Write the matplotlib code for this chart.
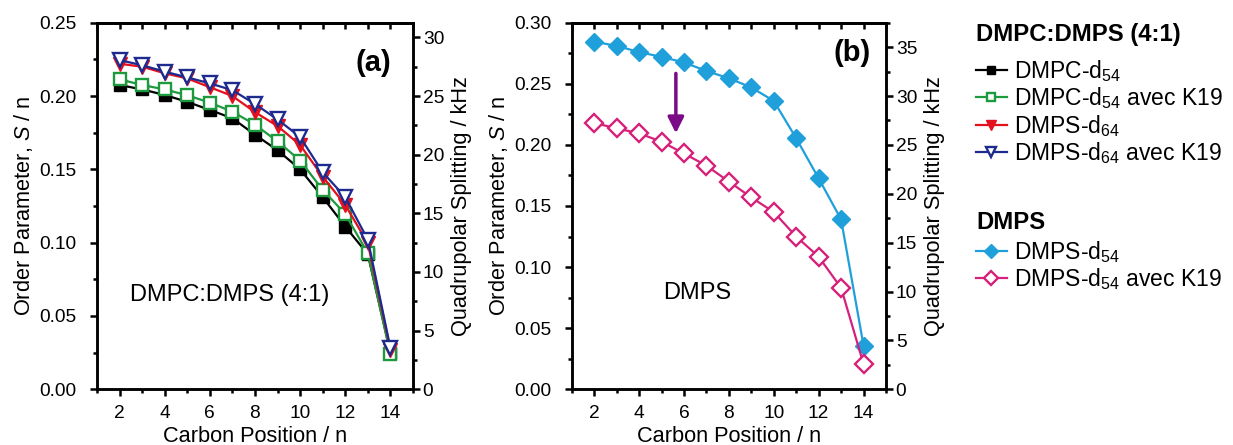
import matplotlib
matplotlib.use("Agg")
import matplotlib.pyplot as plt
from matplotlib.ticker import MultipleLocator

plt.rcParams['font.family'] = ['Liberation Sans', 'DejaVu Sans']
plt.rcParams['mathtext.fontset'] = 'custom'
plt.rcParams['mathtext.rm'] = 'Liberation Sans'
plt.rcParams['mathtext.it'] = 'Liberation Sans:italic'
plt.rcParams['mathtext.bf'] = 'Liberation Sans:bold'

# ---------------- data ----------------
carbon = [2, 3, 4, 5, 6, 7, 8, 9, 10, 11, 12, 13, 14]

# panel (a) DMPC:DMPS (4:1)
dmpc_d54 = [0.2075, 0.2045, 0.2007, 0.196, 0.1905, 0.1848, 0.1736, 0.163, 0.150, 0.131, 0.111, 0.092, 0.025]
dmpc_d54_k19 = [0.2114, 0.2075, 0.2045, 0.2005, 0.1955, 0.1893, 0.1805, 0.169, 0.156, 0.136, 0.1195, 0.0927, 0.024]
dmps_d64 = [0.222, 0.220, 0.2155, 0.212, 0.206, 0.200, 0.189, 0.1795, 0.1666, 0.145, 0.1257, 0.0995, 0.027]
dmps_d64_k19 = [0.2245, 0.221, 0.2166, 0.2127, 0.2086, 0.204, 0.1945, 0.184, 0.172, 0.148, 0.131, 0.102, 0.028]

# panel (b) DMPS
dmps_d54 = [0.2845, 0.281, 0.276, 0.272, 0.2675, 0.2605, 0.2545, 0.247, 0.236, 0.2054, 0.1726, 0.139, 0.0357]
dmps_d54_k19 = [0.218, 0.2135, 0.2095, 0.2026, 0.193, 0.183, 0.170, 0.157, 0.145, 0.125, 0.1085, 0.083, 0.0207]

labels_a = ['DMPC-d$_{\\mathregular{54}}$', 'DMPC-d$_{\\mathregular{54}}$ avec K19',
            'DMPS-d$_{\\mathregular{64}}$', 'DMPS-d$_{\\mathregular{64}}$ avec K19']
labels_b = ['DMPS-d$_{\\mathregular{54}}$', 'DMPS-d$_{\\mathregular{54}}$ avec K19']
title_a = 'DMPC:DMPS (4:1)'
title_b = 'DMPS'

# arrow in panel (b): x, y start, y end
arrow_x = 5.64
arrow_y0 = 0.2585
arrow_y1 = 0.2095

KHZ_PER_S = 125.0

# ---------------- figure ----------------
W, H = 1233, 445
fig = plt.figure(figsize=(W / 100, H / 100), dpi=100)

def px_axes(l, t, r, b):
    return fig.add_axes([l / W, 1 - b / H, (r - l) / W, (b - t) / H])

axa = px_axes(97, 22.7, 413, 389.3)
axb = px_axes(571.7, 22.7, 886, 389.3)

TICK_FS = 13.8
LABEL_FS = 15.7
SW = 1.8

def style(ax, ymax, ymaj, ymin_minor):
    ax.set_xlim(1, 15)
    ax.set_ylim(0, ymax)
    ax.xaxis.set_major_locator(MultipleLocator(2))
    ax.xaxis.set_minor_locator(MultipleLocator(1))
    ax.yaxis.set_major_locator(MultipleLocator(ymaj))
    ax.yaxis.set_minor_locator(MultipleLocator(ymin_minor))
    ax.yaxis.set_major_formatter(matplotlib.ticker.FormatStrFormatter('%.2f'))
    for s in ax.spines.values():
        s.set_linewidth(SW)
    ax.tick_params(axis='both', which='major', direction='out', length=5, width=SW,
                   labelsize=TICK_FS)
    ax.tick_params(axis='both', which='minor', direction='out', length=3, width=SW)
    ax.tick_params(axis='y', which='both', right=False)
    ax.tick_params(axis='x', which='major', pad=6)
    ax.tick_params(axis='y', which='major', pad=9.5)
    sec = ax.secondary_xaxis('top')
    sec.xaxis.set_major_locator(MultipleLocator(2))
    sec.xaxis.set_minor_locator(MultipleLocator(1))
    sec.tick_params(axis='x', which='both', direction='in', length=4, width=SW, labeltop=False)
    sec.spines['top'].set_linewidth(SW)
    tw = ax.twinx()
    tw.set_ylim(0, ymax * KHZ_PER_S)
    tw.yaxis.set_major_locator(MultipleLocator(5))
    tw.yaxis.set_minor_locator(MultipleLocator(2.5))
    tw.tick_params(axis='y', which='major', direction='out', length=5, width=SW,
                   labelsize=TICK_FS, pad=2)
    tw.tick_params(axis='y', which='minor', direction='out', length=3, width=SW)
    for s in tw.spines.values():
        s.set_linewidth(SW)
    ax.set_xlabel('Carbon Position / n', fontsize=LABEL_FS, labelpad=3)
    ax.set_ylabel('Order Parameter, $S$ / n', fontsize=LABEL_FS, labelpad=3)
    tw.set_ylabel('Quadrupolar Splitting / kHz', fontsize=LABEL_FS, labelpad=5)
    return tw

style(axa, 0.25, 0.05, 0.025)
style(axb, 0.30, 0.05, 0.025)

LW = 1.6
MEW = 1.7
c_black = '#000000'
c_green = '#1E9A3E'
c_red = '#E3101E'
c_navy = '#1D2B8F'
c_cyan = '#1FA0DB'
c_pink = '#D6207A'
c_purple = '#7A0A86'

h1, = axa.plot(carbon, dmpc_d54, '-s', color=c_black, lw=LW, ms=8, mec=c_black, mfc=c_black, zorder=3)
h2, = axa.plot(carbon, dmpc_d54_k19, '-s', color=c_green, lw=LW, ms=8, mec=c_green, mfc='white', mew=MEW, zorder=4)
h3, = axa.plot(carbon, dmps_d64, '-v', color=c_red, lw=LW, ms=10, mec=c_red, mfc=c_red, zorder=5)
h4, = axa.plot(carbon, dmps_d64_k19, '-v', color=c_navy, lw=LW, ms=10, mec=c_navy, mfc='white', mew=MEW, zorder=6)

h5, = axb.plot(carbon, dmps_d54, '-D', color=c_cyan, lw=LW, ms=9.5, mec=c_cyan, mfc=c_cyan, zorder=4)
h6, = axb.plot(carbon, dmps_d54_k19, '-D', color=c_pink, lw=LW, ms=9.5, mec=c_pink, mfc='white', mew=MEW, zorder=5)

axb.annotate('', xy=(arrow_x, arrow_y1), xytext=(arrow_x, arrow_y0),
             arrowprops=dict(arrowstyle='-|>', color=c_purple, lw=2.5, mutation_scale=24,
                             shrinkA=0, shrinkB=0))

axa.text(13.25, 0.2225, '(a)', fontsize=21, fontweight='bold', ha='center', va='center')
axb.text(13.5, 0.275, '(b)', fontsize=21, fontweight='bold', ha='center', va='center')
axa.text(6.9, 0.0643, title_a, fontsize=17, ha='center', va='center')
axb.text(6.6, 0.079, title_b, fontsize=17, ha='center', va='center')

# legend titles
fig.text(976 / W, 1 - 35 / H, title_a, fontsize=17.2, fontweight='bold', ha='left', va='center')
fig.text(976 / W, 1 - 222 / H, title_b, fontsize=17.2, fontweight='bold', ha='left', va='center')

leg_kw = dict(loc='upper left', frameon=False, borderpad=0, borderaxespad=0,
              handlelength=1.35, handletextpad=0.3, labelspacing=0.07, fontsize=16.5,
              markerscale=0.7)
leg1 = fig.legend([h1, h2, h3, h4], labels_a,
                  bbox_to_anchor=(976 / W, 1 - 58 / H), **leg_kw)
leg2 = fig.legend([h5, h6], labels_b,
                  bbox_to_anchor=(976 / W, 1 - 239 / H), **leg_kw)

fig.savefig('out.png', dpi=100)
